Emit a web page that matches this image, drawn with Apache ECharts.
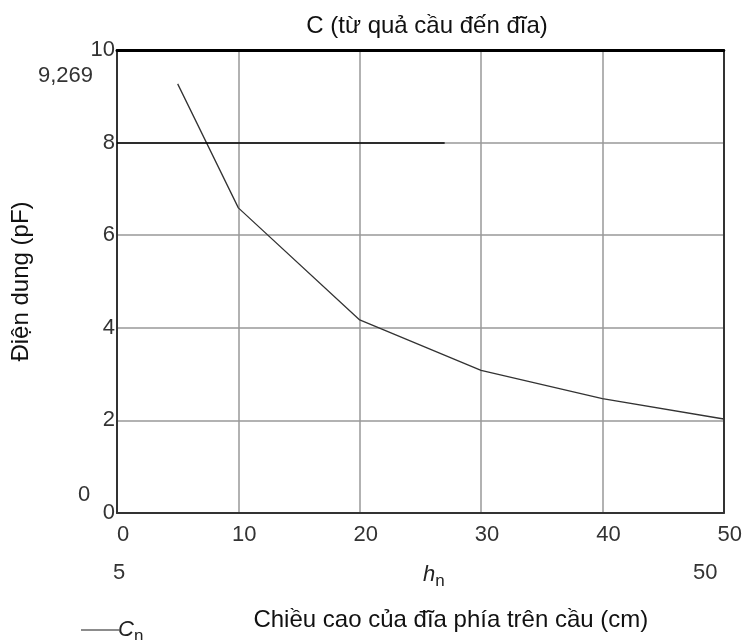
<!DOCTYPE html>
<html>
<head>
<meta charset="utf-8">
<script src="https://cdn.jsdelivr.net/npm/echarts@6/dist/echarts.min.js"></script>
<style>
  html, body { margin: 0; padding: 0; background: #fff; }
  #chart { width: 745px; height: 640px; }
</style>
</head>
<body>
<div id="chart"></div>
<script>
var chart = echarts.init(document.getElementById('chart'));

// chiều cao h_n (cm) và điện dung C_n (pF)
var hValues = [5, 10, 20, 30, 40, 50];
var cValues = [9.269, 6.59, 4.17, 3.08, 2.47, 2.03];
var seriesName = 'Cn';
// đoạn đậm của đường lưới y = 8
var darkSegment = [[0, 8], [27, 8]];

var points = [];
for (var i = 0; i < hValues.length; i++) {
  points.push([hValues[i], cValues[i]]);
}

var font = 'Liberation Sans, Arial, sans-serif';
var lblFont = '22px ' + font;

var option = {
  backgroundColor: '#fff',
  animation: false,
  title: {
    text: 'C (từ quả cầu đến đĩa)',
    left: 422,
    top: 9,
    textAlign: 'center',
    textStyle: { fontFamily: font, fontSize: 24, fontWeight: 'normal', color: '#111' }
  },
  legend: {
    left: 76,
    top: 614,
    icon: 'rect',
    itemWidth: 38,
    itemHeight: 1.5,
    itemGap: 0,
    data: [seriesName],
    formatter: function () { return '{i|C}{s|n}'; },
    textStyle: {
      fontFamily: font,
      color: '#222',
      padding: [0, 0, 0, -6],
      rich: {
        i: { fontStyle: 'italic', fontSize: 22, fontFamily: font, color: '#222' },
        s: { fontSize: 17, fontFamily: font, color: '#222', padding: [12, 0, 0, 0] }
      }
    }
  },
  grid: { left: 117, right: 21, top: 50, bottom: 127 },
  xAxis: [{
    type: 'value',
    min: 0, max: 50, interval: 10,
    position: 'bottom',
    name: 'Chiều cao của đĩa phía trên cầu (cm)',
    nameLocation: 'middle',
    nameGap: 95,
    nameTextStyle: { fontFamily: font, fontSize: 24, color: '#111', padding: [0, 0, 0, 61] },
    axisLine: { lineStyle: { color: '#333', width: 2 } },
    axisTick: { show: false },
    axisLabel: { fontFamily: font, fontSize: 22, color: '#333', margin: 11, padding: [0, 0, 0, 12] },
    splitLine: { lineStyle: { color: '#999', width: 1.5 } }
  }, {
    type: 'value',
    min: 0, max: 50,
    position: 'top',
    axisLine: { onZero: false, lineStyle: { color: '#000', width: 3 } },
    axisTick: { show: false },
    axisLabel: { show: false },
    splitLine: { show: false }
  }],
  yAxis: [{
    type: 'value',
    min: 0, max: 10, interval: 2,
    name: 'Điện dung (pF)',
    nameLocation: 'middle',
    nameGap: 84,
    nameTextStyle: { fontFamily: font, fontSize: 24, color: '#111' },
    axisLine: { lineStyle: { color: '#333', width: 2 } },
    axisTick: { show: false },
    axisLabel: { fontFamily: font, fontSize: 22, color: '#333', margin: 2, padding: [8, 0, 0, 0] },
    splitLine: { lineStyle: { color: '#999', width: 1.5 } }
  }, {
    type: 'value',
    min: 0, max: 10,
    position: 'right',
    axisLine: { show: true, onZero: false, lineStyle: { color: '#333', width: 2 } },
    axisTick: { show: false },
    axisLabel: { show: false },
    splitLine: { show: false }
  }],
  graphic: [
    { type: 'text', left: 38, top: 65, style: { text: '9,269', font: lblFont, fill: '#333' } },
    { type: 'text', left: 78, top: 484, style: { text: '0', font: lblFont, fill: '#333' } },
    { type: 'text', left: 113, top: 562, style: { text: '5', font: lblFont, fill: '#333' } },
    { type: 'text', left: 423, top: 564, style: {
        text: '{i|h}{s|n}', font: lblFont, fill: '#222',
        rich: {
          i: { fontStyle: 'italic', fontSize: 22, fontFamily: font, fill: '#222' },
          s: { fontSize: 17, fontFamily: font, fill: '#222', padding: [12, 0, 0, 0] }
        }
      } },
    { type: 'text', left: 693, top: 562, style: { text: '50', font: lblFont, fill: '#333' } }
  ],
  series: [{
    name: seriesName,
    type: 'line',
    data: points,
    showSymbol: false,
    symbol: 'none',
    lineStyle: { color: '#333', width: 1.3 },
    itemStyle: { color: '#666' },
    markLine: {
      silent: true,
      symbol: 'none',
      label: { show: false },
      lineStyle: { color: '#000', width: 1.5, type: 'solid' },
      data: [[{ coord: darkSegment[0] }, { coord: darkSegment[1] }]]
    }
  }]
};

chart.setOption(option);
</script>
</body>
</html>
